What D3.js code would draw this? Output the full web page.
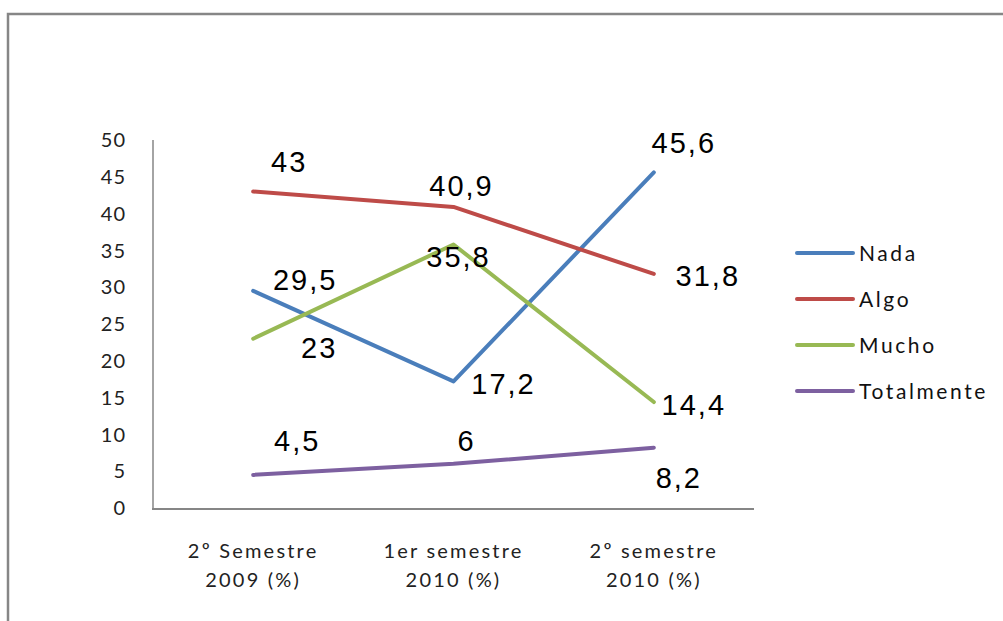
<!DOCTYPE html>
<html>
<head>
<meta charset="utf-8">
<script src="https://cdnjs.cloudflare.com/ajax/libs/d3/7.8.5/d3.min.js"></script>
<style>
  body { margin: 0; background: #fff; }
  svg { display: block; }
</style>
</head>
<body>
<div id="chart"></div>
<script>
// 数据
const categories = [["2º Semestre", "2009 (%)"], ["1er semestre", "2010 (%)"], ["2º semestre", "2010 (%)"]];
const seriesNames = ["Nada", "Algo", "Mucho", "Totalmente"];
const nada = [29.5, 17.2, 45.6];
const algo = [43, 40.9, 31.8];
const mucho = [23, 35.8, 14.4];
const totalmente = [4.5, 6, 8.2];
const yTicks = [0, 5, 10, 15, 20, 25, 30, 35, 40, 45, 50];

const colors = ["#4a7ebb", "#be4b48", "#98b954", "#7d60a0"];
// desplazamiento de cada etiqueta respecto al punto (dx, dy de la línea base)
const labelOffsets = [
  [[52, -1], [50, 13], [30, -19]],
  [[36, -20], [8, -11], [54, 12]],
  [[66, 19], [5, 22], [40, 13]],
  [[44, -24], [13, -13], [25, 40]]
];

const seriesValues = [nada, algo, mucho, totalmente];

const W = 1003, H = 621;
const svg = d3.select("#chart").append("svg").attr("width", W).attr("height", H);

// marco
svg.append("rect")
  .attr("x", 8).attr("y", 14)
  .attr("width", 1010).attr("height", 640)
  .attr("fill", "none")
  .attr("stroke", "#868686")
  .attr("stroke-width", 2.5);

const x = d3.scaleBand().domain(d3.range(categories.length)).range([153, 754]);
const y = d3.scaleLinear().domain([0, 50]).range([508, 140]);

// eje y
svg.append("line")
  .attr("x1", 153).attr("x2", 153)
  .attr("y1", y(50)).attr("y2", y(0))
  .attr("stroke", "#868686").attr("stroke-width", 1.5);

svg.selectAll(".ytick")
  .data(yTicks)
  .join("text")
  .attr("class", "ytick")
  .attr("x", 126)
  .attr("y", d => y(d))
  .attr("dy", "0.36em")
  .attr("text-anchor", "end")
  .attr("font-family", "Lato, 'Open Sans', sans-serif")
  .attr("font-size", 20)
  .attr("letter-spacing", 1)
  .attr("fill", "#222")
  .text(d => d);

// eje x
svg.append("line")
  .attr("x1", 152).attr("x2", 754)
  .attr("y1", y(0) + 1).attr("y2", y(0) + 1)
  .attr("stroke", "#868686").attr("stroke-width", 2);

const xl = svg.selectAll(".xlab")
  .data(categories)
  .join("text")
  .attr("class", "xlab")
  .attr("text-anchor", "middle")
  .attr("font-family", "Lato, 'Open Sans', sans-serif")
  .attr("font-size", 20)
  .attr("letter-spacing", 2.2)
  .attr("fill", "#222");
xl.append("tspan")
  .attr("x", (d, i) => x(i) + x.bandwidth() / 2)
  .attr("y", 558)
  .text(d => d[0]);
xl.append("tspan")
  .attr("x", (d, i) => x(i) + x.bandwidth() / 2)
  .attr("y", 587)
  .text(d => d[1]);

// líneas
const line = d3.line()
  .x((d, i) => x(i) + x.bandwidth() / 2)
  .y(d => y(d));

seriesValues.forEach((vals, s) => {
  svg.append("path")
    .datum(vals)
    .attr("d", line)
    .attr("fill", "none")
    .attr("stroke", colors[s])
    .attr("stroke-width", 4)
    .attr("stroke-linejoin", "round")
    .attr("stroke-linecap", "round");
});

// etiquetas de datos
seriesValues.forEach((vals, s) => {
  svg.selectAll(".lab" + s)
    .data(vals)
    .join("text")
    .attr("class", "lab" + s)
    .attr("x", (d, i) => x(i) + x.bandwidth() / 2 + labelOffsets[s][i][0])
    .attr("y", (d, i) => y(d) + labelOffsets[s][i][1])
    .attr("text-anchor", "middle")
    .attr("font-family", "'Liberation Sans', Arial, sans-serif")
    .attr("font-size", 29)
    .attr("letter-spacing", 2)
    .attr("fill", "#000")
    .text(d => String(d).replace(".", ","));
});

// leyenda
const legend = svg.selectAll(".leg")
  .data(seriesNames)
  .join("g")
  .attr("class", "leg")
  .attr("transform", (d, i) => `translate(797,${253 + i * 46})`);

legend.append("line")
  .attr("x1", 0).attr("x2", 56)
  .attr("stroke", (d, i) => colors[i])
  .attr("stroke-width", 4)
  .attr("stroke-linecap", "round");

legend.append("text")
  .attr("x", 62)
  .attr("dy", "0.36em")
  .attr("font-family", "Lato, 'Open Sans', sans-serif")
  .attr("font-size", 21)
  .attr("letter-spacing", 2.6)
  .attr("fill", "#111")
  .text(d => d);
</script>
</body>
</html>
